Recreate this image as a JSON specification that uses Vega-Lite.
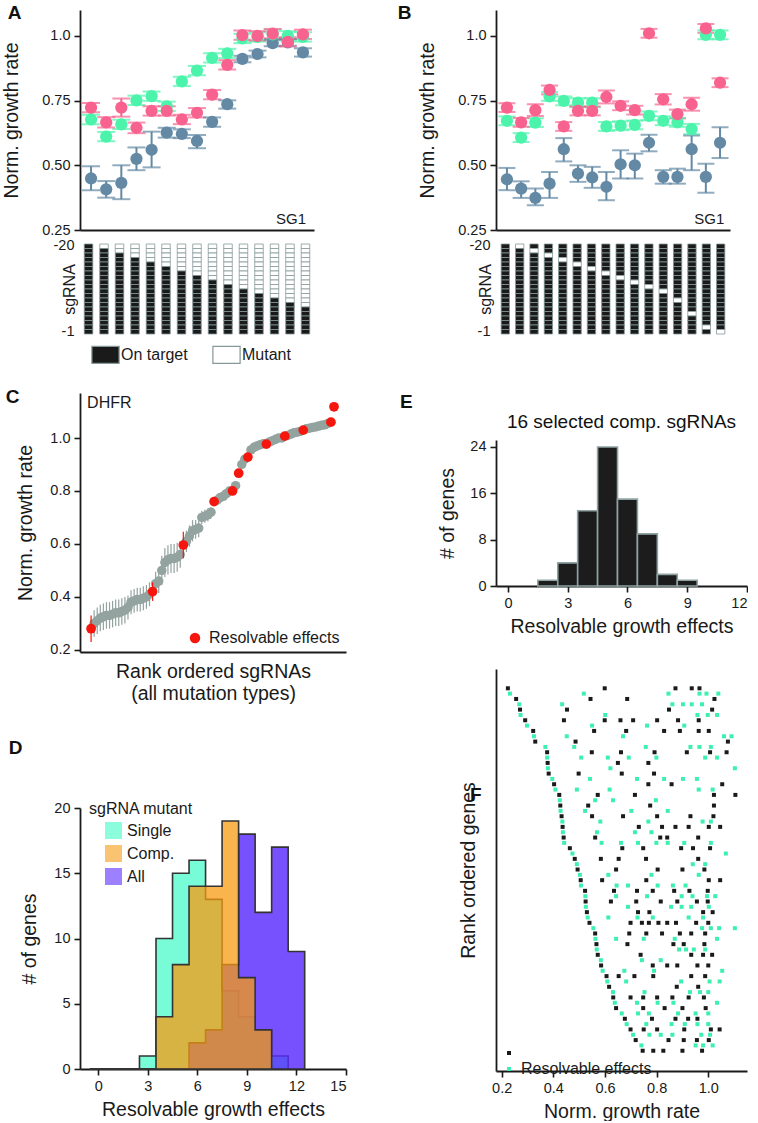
{
"$schema": "https://vega.github.io/schema/vega-lite/v6.json",
"padding": {"left": 1, "top": 4, "right": 0, "bottom": 0},
"config": {
 "font": "Liberation Sans",
 "view": {"stroke": null},
 "title": {"fontSize": 19, "fontWeight": "bold", "anchor": "start", "frame": "bounds", "color": "#111111"},
 "axis": {"domainColor": "#1a1a1a", "domainWidth": 1.8, "tickColor": "#1a1a1a", "tickWidth": 1.6, "tickSize": 6, "labelFontSize": 14.5, "labelColor": "#1a1a1a", "titleFontSize": 19.5, "titleFontWeight": "normal", "titleColor": "#1a1a1a", "grid": false, "labelPadding": 4},
 "legend": {"labelFontSize": 16, "labelColor": "#1a1a1a", "titleFontWeight": "normal", "titleColor": "#1a1a1a"}
},
"datasets": {
 "pa": [
  {"p":1,"g":"guaA","v":0.449,"lo":0.404,"hi":0.496},{"p":2,"g":"guaA","v":0.407,"lo":0.375,"hi":0.439},{"p":3,"g":"guaA","v":0.432,"lo":0.369,"hi":0.5},{"p":4,"g":"guaA","v":0.525,"lo":0.481,"hi":0.569},{"p":5,"g":"guaA","v":0.56,"lo":0.492,"hi":0.63},{"p":6,"g":"guaA","v":0.626,"lo":0.607,"hi":0.645},{"p":7,"g":"guaA","v":0.621,"lo":0.605,"hi":0.639},{"p":8,"g":"guaA","v":0.594,"lo":0.566,"hi":0.617},{"p":9,"g":"guaA","v":0.668,"lo":0.649,"hi":0.685},{"p":10,"g":"guaA","v":0.736,"lo":0.719,"hi":0.751},{"p":11,"g":"guaA","v":0.911,"lo":0.898,"hi":0.923},{"p":12,"g":"guaA","v":0.93,"lo":0.917,"hi":0.943},{"p":13,"g":"guaA","v":0.972,"lo":0.96,"hi":0.985},{"p":14,"g":"guaA","v":0.975,"lo":0.962,"hi":0.988},{"p":15,"g":"guaA","v":0.936,"lo":0.92,"hi":0.952},
  {"p":1,"g":"dapA","v":0.677,"lo":0.659,"hi":0.695},{"p":2,"g":"dapA","v":0.611,"lo":0.593,"hi":0.629},{"p":3,"g":"dapA","v":0.658,"lo":0.64,"hi":0.676},{"p":4,"g":"dapA","v":0.751,"lo":0.733,"hi":0.769},{"p":5,"g":"dapA","v":0.767,"lo":0.749,"hi":0.785},{"p":6,"g":"dapA","v":0.728,"lo":0.71,"hi":0.746},{"p":7,"g":"dapA","v":0.824,"lo":0.806,"hi":0.842},{"p":8,"g":"dapA","v":0.866,"lo":0.848,"hi":0.884},{"p":9,"g":"dapA","v":0.915,"lo":0.897,"hi":0.933},{"p":10,"g":"dapA","v":0.932,"lo":0.914,"hi":0.95},{"p":11,"g":"dapA","v":0.99,"lo":0.972,"hi":1.008},{"p":12,"g":"dapA","v":0.996,"lo":0.978,"hi":1.014},{"p":13,"g":"dapA","v":1.006,"lo":0.988,"hi":1.024},{"p":14,"g":"dapA","v":1.0,"lo":0.982,"hi":1.018},{"p":15,"g":"dapA","v":0.996,"lo":0.978,"hi":1.014},
  {"p":1,"g":"kdsA","v":0.723,"lo":0.705,"hi":0.741},{"p":2,"g":"kdsA","v":0.666,"lo":0.646,"hi":0.686},{"p":3,"g":"kdsA","v":0.723,"lo":0.688,"hi":0.758},{"p":4,"g":"kdsA","v":0.645,"lo":0.624,"hi":0.665},{"p":5,"g":"kdsA","v":0.71,"lo":0.692,"hi":0.728},{"p":6,"g":"kdsA","v":0.71,"lo":0.692,"hi":0.728},{"p":7,"g":"kdsA","v":0.677,"lo":0.659,"hi":0.695},{"p":8,"g":"kdsA","v":0.703,"lo":0.685,"hi":0.721},{"p":9,"g":"kdsA","v":0.773,"lo":0.755,"hi":0.791},{"p":10,"g":"kdsA","v":0.888,"lo":0.87,"hi":0.906},{"p":11,"g":"kdsA","v":1.003,"lo":0.985,"hi":1.021},{"p":12,"g":"kdsA","v":1.0,"lo":0.982,"hi":1.018},{"p":13,"g":"kdsA","v":1.009,"lo":0.991,"hi":1.027},{"p":14,"g":"kdsA","v":0.977,"lo":0.959,"hi":0.995},{"p":15,"g":"kdsA","v":1.006,"lo":0.988,"hi":1.024}
 ],
 "pb": [
  {"p":1,"g":"guaA","v":0.446,"lo":0.404,"hi":0.49},{"p":2,"g":"guaA","v":0.41,"lo":0.374,"hi":0.438},{"p":3,"g":"guaA","v":0.374,"lo":0.346,"hi":0.41},{"p":4,"g":"guaA","v":0.429,"lo":0.374,"hi":0.474},{"p":5,"g":"guaA","v":0.562,"lo":0.515,"hi":0.605},{"p":6,"g":"guaA","v":0.468,"lo":0.436,"hi":0.5},{"p":7,"g":"guaA","v":0.453,"lo":0.413,"hi":0.494},{"p":8,"g":"guaA","v":0.417,"lo":0.365,"hi":0.474},{"p":9,"g":"guaA","v":0.504,"lo":0.449,"hi":0.558},{"p":10,"g":"guaA","v":0.5,"lo":0.449,"hi":0.545},{"p":11,"g":"guaA","v":0.587,"lo":0.554,"hi":0.618},{"p":12,"g":"guaA","v":0.455,"lo":0.429,"hi":0.481},{"p":13,"g":"guaA","v":0.455,"lo":0.429,"hi":0.487},{"p":14,"g":"guaA","v":0.562,"lo":0.481,"hi":0.615},{"p":15,"g":"guaA","v":0.455,"lo":0.394,"hi":0.506},{"p":16,"g":"guaA","v":0.587,"lo":0.528,"hi":0.647},
  {"p":1,"g":"dapA","v":0.672,"lo":0.655,"hi":0.689},{"p":2,"g":"dapA","v":0.607,"lo":0.59,"hi":0.624},{"p":3,"g":"dapA","v":0.665,"lo":0.648,"hi":0.682},{"p":4,"g":"dapA","v":0.766,"lo":0.749,"hi":0.783},{"p":5,"g":"dapA","v":0.749,"lo":0.732,"hi":0.766},{"p":6,"g":"dapA","v":0.742,"lo":0.725,"hi":0.759},{"p":7,"g":"dapA","v":0.742,"lo":0.725,"hi":0.759},{"p":8,"g":"dapA","v":0.65,"lo":0.633,"hi":0.667},{"p":9,"g":"dapA","v":0.653,"lo":0.636,"hi":0.67},{"p":10,"g":"dapA","v":0.656,"lo":0.639,"hi":0.673},{"p":11,"g":"dapA","v":0.691,"lo":0.674,"hi":0.708},{"p":12,"g":"dapA","v":0.672,"lo":0.655,"hi":0.689},{"p":13,"g":"dapA","v":0.666,"lo":0.649,"hi":0.683},{"p":14,"g":"dapA","v":0.64,"lo":0.62,"hi":0.66},{"p":15,"g":"dapA","v":1.004,"lo":0.987,"hi":1.021},{"p":16,"g":"dapA","v":1.004,"lo":0.987,"hi":1.021},
  {"p":1,"g":"kdsA","v":0.723,"lo":0.706,"hi":0.74},{"p":2,"g":"kdsA","v":0.666,"lo":0.649,"hi":0.683},{"p":3,"g":"kdsA","v":0.713,"lo":0.69,"hi":0.736},{"p":4,"g":"kdsA","v":0.791,"lo":0.774,"hi":0.808},{"p":5,"g":"kdsA","v":0.65,"lo":0.633,"hi":0.667},{"p":6,"g":"kdsA","v":0.71,"lo":0.693,"hi":0.727},{"p":7,"g":"kdsA","v":0.71,"lo":0.693,"hi":0.727},{"p":8,"g":"kdsA","v":0.764,"lo":0.739,"hi":0.789},{"p":9,"g":"kdsA","v":0.73,"lo":0.713,"hi":0.747},{"p":10,"g":"kdsA","v":0.713,"lo":0.696,"hi":0.73},{"p":11,"g":"kdsA","v":1.01,"lo":0.993,"hi":1.027},{"p":12,"g":"kdsA","v":0.755,"lo":0.735,"hi":0.775},{"p":13,"g":"kdsA","v":0.698,"lo":0.681,"hi":0.715},{"p":14,"g":"kdsA","v":0.736,"lo":0.711,"hi":0.761},{"p":15,"g":"kdsA","v":1.029,"lo":1.012,"hi":1.046},{"p":16,"g":"kdsA","v":0.819,"lo":0.802,"hi":0.836}
 ],
 "ga": [
  {"c":1,"r":-20,"s":"T"},{"c":1,"r":-19,"s":"T"},{"c":1,"r":-18,"s":"T"},{"c":1,"r":-17,"s":"T"},{"c":1,"r":-16,"s":"T"},{"c":1,"r":-15,"s":"T"},{"c":1,"r":-14,"s":"T"},{"c":1,"r":-13,"s":"T"},{"c":1,"r":-12,"s":"T"},{"c":1,"r":-11,"s":"T"},{"c":1,"r":-10,"s":"T"},{"c":1,"r":-9,"s":"T"},{"c":1,"r":-8,"s":"T"},{"c":1,"r":-7,"s":"T"},{"c":1,"r":-6,"s":"T"},{"c":1,"r":-5,"s":"T"},{"c":1,"r":-4,"s":"T"},{"c":1,"r":-3,"s":"T"},{"c":1,"r":-2,"s":"T"},{"c":1,"r":-1,"s":"T"},
  {"c":2,"r":-20,"s":"M"},{"c":2,"r":-19,"s":"T"},{"c":2,"r":-18,"s":"T"},{"c":2,"r":-17,"s":"T"},{"c":2,"r":-16,"s":"T"},{"c":2,"r":-15,"s":"T"},{"c":2,"r":-14,"s":"T"},{"c":2,"r":-13,"s":"T"},{"c":2,"r":-12,"s":"T"},{"c":2,"r":-11,"s":"T"},{"c":2,"r":-10,"s":"T"},{"c":2,"r":-9,"s":"T"},{"c":2,"r":-8,"s":"T"},{"c":2,"r":-7,"s":"T"},{"c":2,"r":-6,"s":"T"},{"c":2,"r":-5,"s":"T"},{"c":2,"r":-4,"s":"T"},{"c":2,"r":-3,"s":"T"},{"c":2,"r":-2,"s":"T"},{"c":2,"r":-1,"s":"T"},
  {"c":3,"r":-20,"s":"M"},{"c":3,"r":-19,"s":"M"},{"c":3,"r":-18,"s":"T"},{"c":3,"r":-17,"s":"T"},{"c":3,"r":-16,"s":"T"},{"c":3,"r":-15,"s":"T"},{"c":3,"r":-14,"s":"T"},{"c":3,"r":-13,"s":"T"},{"c":3,"r":-12,"s":"T"},{"c":3,"r":-11,"s":"T"},{"c":3,"r":-10,"s":"T"},{"c":3,"r":-9,"s":"T"},{"c":3,"r":-8,"s":"T"},{"c":3,"r":-7,"s":"T"},{"c":3,"r":-6,"s":"T"},{"c":3,"r":-5,"s":"T"},{"c":3,"r":-4,"s":"T"},{"c":3,"r":-3,"s":"T"},{"c":3,"r":-2,"s":"T"},{"c":3,"r":-1,"s":"T"},
  {"c":4,"r":-20,"s":"M"},{"c":4,"r":-19,"s":"M"},{"c":4,"r":-18,"s":"M"},{"c":4,"r":-17,"s":"T"},{"c":4,"r":-16,"s":"T"},{"c":4,"r":-15,"s":"T"},{"c":4,"r":-14,"s":"T"},{"c":4,"r":-13,"s":"T"},{"c":4,"r":-12,"s":"T"},{"c":4,"r":-11,"s":"T"},{"c":4,"r":-10,"s":"T"},{"c":4,"r":-9,"s":"T"},{"c":4,"r":-8,"s":"T"},{"c":4,"r":-7,"s":"T"},{"c":4,"r":-6,"s":"T"},{"c":4,"r":-5,"s":"T"},{"c":4,"r":-4,"s":"T"},{"c":4,"r":-3,"s":"T"},{"c":4,"r":-2,"s":"T"},{"c":4,"r":-1,"s":"T"},
  {"c":5,"r":-20,"s":"M"},{"c":5,"r":-19,"s":"M"},{"c":5,"r":-18,"s":"M"},{"c":5,"r":-17,"s":"M"},{"c":5,"r":-16,"s":"T"},{"c":5,"r":-15,"s":"T"},{"c":5,"r":-14,"s":"T"},{"c":5,"r":-13,"s":"T"},{"c":5,"r":-12,"s":"T"},{"c":5,"r":-11,"s":"T"},{"c":5,"r":-10,"s":"T"},{"c":5,"r":-9,"s":"T"},{"c":5,"r":-8,"s":"T"},{"c":5,"r":-7,"s":"T"},{"c":5,"r":-6,"s":"T"},{"c":5,"r":-5,"s":"T"},{"c":5,"r":-4,"s":"T"},{"c":5,"r":-3,"s":"T"},{"c":5,"r":-2,"s":"T"},{"c":5,"r":-1,"s":"T"},
  {"c":6,"r":-20,"s":"M"},{"c":6,"r":-19,"s":"M"},{"c":6,"r":-18,"s":"M"},{"c":6,"r":-17,"s":"M"},{"c":6,"r":-16,"s":"M"},{"c":6,"r":-15,"s":"T"},{"c":6,"r":-14,"s":"T"},{"c":6,"r":-13,"s":"T"},{"c":6,"r":-12,"s":"T"},{"c":6,"r":-11,"s":"T"},{"c":6,"r":-10,"s":"T"},{"c":6,"r":-9,"s":"T"},{"c":6,"r":-8,"s":"T"},{"c":6,"r":-7,"s":"T"},{"c":6,"r":-6,"s":"T"},{"c":6,"r":-5,"s":"T"},{"c":6,"r":-4,"s":"T"},{"c":6,"r":-3,"s":"T"},{"c":6,"r":-2,"s":"T"},{"c":6,"r":-1,"s":"T"},
  {"c":7,"r":-20,"s":"M"},{"c":7,"r":-19,"s":"M"},{"c":7,"r":-18,"s":"M"},{"c":7,"r":-17,"s":"M"},{"c":7,"r":-16,"s":"M"},{"c":7,"r":-15,"s":"M"},{"c":7,"r":-14,"s":"T"},{"c":7,"r":-13,"s":"T"},{"c":7,"r":-12,"s":"T"},{"c":7,"r":-11,"s":"T"},{"c":7,"r":-10,"s":"T"},{"c":7,"r":-9,"s":"T"},{"c":7,"r":-8,"s":"T"},{"c":7,"r":-7,"s":"T"},{"c":7,"r":-6,"s":"T"},{"c":7,"r":-5,"s":"T"},{"c":7,"r":-4,"s":"T"},{"c":7,"r":-3,"s":"T"},{"c":7,"r":-2,"s":"T"},{"c":7,"r":-1,"s":"T"},
  {"c":8,"r":-20,"s":"M"},{"c":8,"r":-19,"s":"M"},{"c":8,"r":-18,"s":"M"},{"c":8,"r":-17,"s":"M"},{"c":8,"r":-16,"s":"M"},{"c":8,"r":-15,"s":"M"},{"c":8,"r":-14,"s":"M"},{"c":8,"r":-13,"s":"T"},{"c":8,"r":-12,"s":"T"},{"c":8,"r":-11,"s":"T"},{"c":8,"r":-10,"s":"T"},{"c":8,"r":-9,"s":"T"},{"c":8,"r":-8,"s":"T"},{"c":8,"r":-7,"s":"T"},{"c":8,"r":-6,"s":"T"},{"c":8,"r":-5,"s":"T"},{"c":8,"r":-4,"s":"T"},{"c":8,"r":-3,"s":"T"},{"c":8,"r":-2,"s":"T"},{"c":8,"r":-1,"s":"T"},
  {"c":9,"r":-20,"s":"M"},{"c":9,"r":-19,"s":"M"},{"c":9,"r":-18,"s":"M"},{"c":9,"r":-17,"s":"M"},{"c":9,"r":-16,"s":"M"},{"c":9,"r":-15,"s":"M"},{"c":9,"r":-14,"s":"M"},{"c":9,"r":-13,"s":"M"},{"c":9,"r":-12,"s":"T"},{"c":9,"r":-11,"s":"T"},{"c":9,"r":-10,"s":"T"},{"c":9,"r":-9,"s":"T"},{"c":9,"r":-8,"s":"T"},{"c":9,"r":-7,"s":"T"},{"c":9,"r":-6,"s":"T"},{"c":9,"r":-5,"s":"T"},{"c":9,"r":-4,"s":"T"},{"c":9,"r":-3,"s":"T"},{"c":9,"r":-2,"s":"T"},{"c":9,"r":-1,"s":"T"},
  {"c":10,"r":-20,"s":"M"},{"c":10,"r":-19,"s":"M"},{"c":10,"r":-18,"s":"M"},{"c":10,"r":-17,"s":"M"},{"c":10,"r":-16,"s":"M"},{"c":10,"r":-15,"s":"M"},{"c":10,"r":-14,"s":"M"},{"c":10,"r":-13,"s":"M"},{"c":10,"r":-12,"s":"M"},{"c":10,"r":-11,"s":"T"},{"c":10,"r":-10,"s":"T"},{"c":10,"r":-9,"s":"T"},{"c":10,"r":-8,"s":"T"},{"c":10,"r":-7,"s":"T"},{"c":10,"r":-6,"s":"T"},{"c":10,"r":-5,"s":"T"},{"c":10,"r":-4,"s":"T"},{"c":10,"r":-3,"s":"T"},{"c":10,"r":-2,"s":"T"},{"c":10,"r":-1,"s":"T"},
  {"c":11,"r":-20,"s":"M"},{"c":11,"r":-19,"s":"M"},{"c":11,"r":-18,"s":"M"},{"c":11,"r":-17,"s":"M"},{"c":11,"r":-16,"s":"M"},{"c":11,"r":-15,"s":"M"},{"c":11,"r":-14,"s":"M"},{"c":11,"r":-13,"s":"M"},{"c":11,"r":-12,"s":"M"},{"c":11,"r":-11,"s":"M"},{"c":11,"r":-10,"s":"T"},{"c":11,"r":-9,"s":"T"},{"c":11,"r":-8,"s":"T"},{"c":11,"r":-7,"s":"T"},{"c":11,"r":-6,"s":"T"},{"c":11,"r":-5,"s":"T"},{"c":11,"r":-4,"s":"T"},{"c":11,"r":-3,"s":"T"},{"c":11,"r":-2,"s":"T"},{"c":11,"r":-1,"s":"T"},
  {"c":12,"r":-20,"s":"M"},{"c":12,"r":-19,"s":"M"},{"c":12,"r":-18,"s":"M"},{"c":12,"r":-17,"s":"M"},{"c":12,"r":-16,"s":"M"},{"c":12,"r":-15,"s":"M"},{"c":12,"r":-14,"s":"M"},{"c":12,"r":-13,"s":"M"},{"c":12,"r":-12,"s":"M"},{"c":12,"r":-11,"s":"M"},{"c":12,"r":-10,"s":"M"},{"c":12,"r":-9,"s":"T"},{"c":12,"r":-8,"s":"T"},{"c":12,"r":-7,"s":"T"},{"c":12,"r":-6,"s":"T"},{"c":12,"r":-5,"s":"T"},{"c":12,"r":-4,"s":"T"},{"c":12,"r":-3,"s":"T"},{"c":12,"r":-2,"s":"T"},{"c":12,"r":-1,"s":"T"},
  {"c":13,"r":-20,"s":"M"},{"c":13,"r":-19,"s":"M"},{"c":13,"r":-18,"s":"M"},{"c":13,"r":-17,"s":"M"},{"c":13,"r":-16,"s":"M"},{"c":13,"r":-15,"s":"M"},{"c":13,"r":-14,"s":"M"},{"c":13,"r":-13,"s":"M"},{"c":13,"r":-12,"s":"M"},{"c":13,"r":-11,"s":"M"},{"c":13,"r":-10,"s":"M"},{"c":13,"r":-9,"s":"M"},{"c":13,"r":-8,"s":"T"},{"c":13,"r":-7,"s":"T"},{"c":13,"r":-6,"s":"T"},{"c":13,"r":-5,"s":"T"},{"c":13,"r":-4,"s":"T"},{"c":13,"r":-3,"s":"T"},{"c":13,"r":-2,"s":"T"},{"c":13,"r":-1,"s":"T"},
  {"c":14,"r":-20,"s":"M"},{"c":14,"r":-19,"s":"M"},{"c":14,"r":-18,"s":"M"},{"c":14,"r":-17,"s":"M"},{"c":14,"r":-16,"s":"M"},{"c":14,"r":-15,"s":"M"},{"c":14,"r":-14,"s":"M"},{"c":14,"r":-13,"s":"M"},{"c":14,"r":-12,"s":"M"},{"c":14,"r":-11,"s":"M"},{"c":14,"r":-10,"s":"M"},{"c":14,"r":-9,"s":"M"},{"c":14,"r":-8,"s":"M"},{"c":14,"r":-7,"s":"T"},{"c":14,"r":-6,"s":"T"},{"c":14,"r":-5,"s":"T"},{"c":14,"r":-4,"s":"T"},{"c":14,"r":-3,"s":"T"},{"c":14,"r":-2,"s":"T"},{"c":14,"r":-1,"s":"T"},
  {"c":15,"r":-20,"s":"M"},{"c":15,"r":-19,"s":"M"},{"c":15,"r":-18,"s":"M"},{"c":15,"r":-17,"s":"M"},{"c":15,"r":-16,"s":"M"},{"c":15,"r":-15,"s":"M"},{"c":15,"r":-14,"s":"M"},{"c":15,"r":-13,"s":"M"},{"c":15,"r":-12,"s":"M"},{"c":15,"r":-11,"s":"M"},{"c":15,"r":-10,"s":"M"},{"c":15,"r":-9,"s":"M"},{"c":15,"r":-8,"s":"M"},{"c":15,"r":-7,"s":"M"},{"c":15,"r":-6,"s":"T"},{"c":15,"r":-5,"s":"T"},{"c":15,"r":-4,"s":"T"},{"c":15,"r":-3,"s":"T"},{"c":15,"r":-2,"s":"T"},{"c":15,"r":-1,"s":"T"}
 ],
 "gb": [
  {"c":1,"r":-20,"s":"T"},{"c":1,"r":-19,"s":"T"},{"c":1,"r":-18,"s":"T"},{"c":1,"r":-17,"s":"T"},{"c":1,"r":-16,"s":"T"},{"c":1,"r":-15,"s":"T"},{"c":1,"r":-14,"s":"T"},{"c":1,"r":-13,"s":"T"},{"c":1,"r":-12,"s":"T"},{"c":1,"r":-11,"s":"T"},{"c":1,"r":-10,"s":"T"},{"c":1,"r":-9,"s":"T"},{"c":1,"r":-8,"s":"T"},{"c":1,"r":-7,"s":"T"},{"c":1,"r":-6,"s":"T"},{"c":1,"r":-5,"s":"T"},{"c":1,"r":-4,"s":"T"},{"c":1,"r":-3,"s":"T"},{"c":1,"r":-2,"s":"T"},{"c":1,"r":-1,"s":"T"},
  {"c":2,"r":-20,"s":"M"},{"c":2,"r":-19,"s":"T"},{"c":2,"r":-18,"s":"T"},{"c":2,"r":-17,"s":"T"},{"c":2,"r":-16,"s":"T"},{"c":2,"r":-15,"s":"T"},{"c":2,"r":-14,"s":"T"},{"c":2,"r":-13,"s":"T"},{"c":2,"r":-12,"s":"T"},{"c":2,"r":-11,"s":"T"},{"c":2,"r":-10,"s":"T"},{"c":2,"r":-9,"s":"T"},{"c":2,"r":-8,"s":"T"},{"c":2,"r":-7,"s":"T"},{"c":2,"r":-6,"s":"T"},{"c":2,"r":-5,"s":"T"},{"c":2,"r":-4,"s":"T"},{"c":2,"r":-3,"s":"T"},{"c":2,"r":-2,"s":"T"},{"c":2,"r":-1,"s":"T"},
  {"c":3,"r":-20,"s":"T"},{"c":3,"r":-19,"s":"M"},{"c":3,"r":-18,"s":"T"},{"c":3,"r":-17,"s":"T"},{"c":3,"r":-16,"s":"T"},{"c":3,"r":-15,"s":"T"},{"c":3,"r":-14,"s":"T"},{"c":3,"r":-13,"s":"T"},{"c":3,"r":-12,"s":"T"},{"c":3,"r":-11,"s":"T"},{"c":3,"r":-10,"s":"T"},{"c":3,"r":-9,"s":"T"},{"c":3,"r":-8,"s":"T"},{"c":3,"r":-7,"s":"T"},{"c":3,"r":-6,"s":"T"},{"c":3,"r":-5,"s":"T"},{"c":3,"r":-4,"s":"T"},{"c":3,"r":-3,"s":"T"},{"c":3,"r":-2,"s":"T"},{"c":3,"r":-1,"s":"T"},
  {"c":4,"r":-20,"s":"T"},{"c":4,"r":-19,"s":"T"},{"c":4,"r":-18,"s":"M"},{"c":4,"r":-17,"s":"T"},{"c":4,"r":-16,"s":"T"},{"c":4,"r":-15,"s":"T"},{"c":4,"r":-14,"s":"T"},{"c":4,"r":-13,"s":"T"},{"c":4,"r":-12,"s":"T"},{"c":4,"r":-11,"s":"T"},{"c":4,"r":-10,"s":"T"},{"c":4,"r":-9,"s":"T"},{"c":4,"r":-8,"s":"T"},{"c":4,"r":-7,"s":"T"},{"c":4,"r":-6,"s":"T"},{"c":4,"r":-5,"s":"T"},{"c":4,"r":-4,"s":"T"},{"c":4,"r":-3,"s":"T"},{"c":4,"r":-2,"s":"T"},{"c":4,"r":-1,"s":"T"},
  {"c":5,"r":-20,"s":"T"},{"c":5,"r":-19,"s":"T"},{"c":5,"r":-18,"s":"T"},{"c":5,"r":-17,"s":"M"},{"c":5,"r":-16,"s":"T"},{"c":5,"r":-15,"s":"T"},{"c":5,"r":-14,"s":"T"},{"c":5,"r":-13,"s":"T"},{"c":5,"r":-12,"s":"T"},{"c":5,"r":-11,"s":"T"},{"c":5,"r":-10,"s":"T"},{"c":5,"r":-9,"s":"T"},{"c":5,"r":-8,"s":"T"},{"c":5,"r":-7,"s":"T"},{"c":5,"r":-6,"s":"T"},{"c":5,"r":-5,"s":"T"},{"c":5,"r":-4,"s":"T"},{"c":5,"r":-3,"s":"T"},{"c":5,"r":-2,"s":"T"},{"c":5,"r":-1,"s":"T"},
  {"c":6,"r":-20,"s":"T"},{"c":6,"r":-19,"s":"T"},{"c":6,"r":-18,"s":"T"},{"c":6,"r":-17,"s":"T"},{"c":6,"r":-16,"s":"M"},{"c":6,"r":-15,"s":"T"},{"c":6,"r":-14,"s":"T"},{"c":6,"r":-13,"s":"T"},{"c":6,"r":-12,"s":"T"},{"c":6,"r":-11,"s":"T"},{"c":6,"r":-10,"s":"T"},{"c":6,"r":-9,"s":"T"},{"c":6,"r":-8,"s":"T"},{"c":6,"r":-7,"s":"T"},{"c":6,"r":-6,"s":"T"},{"c":6,"r":-5,"s":"T"},{"c":6,"r":-4,"s":"T"},{"c":6,"r":-3,"s":"T"},{"c":6,"r":-2,"s":"T"},{"c":6,"r":-1,"s":"T"},
  {"c":7,"r":-20,"s":"T"},{"c":7,"r":-19,"s":"T"},{"c":7,"r":-18,"s":"T"},{"c":7,"r":-17,"s":"T"},{"c":7,"r":-16,"s":"T"},{"c":7,"r":-15,"s":"M"},{"c":7,"r":-14,"s":"T"},{"c":7,"r":-13,"s":"T"},{"c":7,"r":-12,"s":"T"},{"c":7,"r":-11,"s":"T"},{"c":7,"r":-10,"s":"T"},{"c":7,"r":-9,"s":"T"},{"c":7,"r":-8,"s":"T"},{"c":7,"r":-7,"s":"T"},{"c":7,"r":-6,"s":"T"},{"c":7,"r":-5,"s":"T"},{"c":7,"r":-4,"s":"T"},{"c":7,"r":-3,"s":"T"},{"c":7,"r":-2,"s":"T"},{"c":7,"r":-1,"s":"T"},
  {"c":8,"r":-20,"s":"T"},{"c":8,"r":-19,"s":"T"},{"c":8,"r":-18,"s":"T"},{"c":8,"r":-17,"s":"T"},{"c":8,"r":-16,"s":"T"},{"c":8,"r":-15,"s":"T"},{"c":8,"r":-14,"s":"M"},{"c":8,"r":-13,"s":"T"},{"c":8,"r":-12,"s":"T"},{"c":8,"r":-11,"s":"T"},{"c":8,"r":-10,"s":"T"},{"c":8,"r":-9,"s":"T"},{"c":8,"r":-8,"s":"T"},{"c":8,"r":-7,"s":"T"},{"c":8,"r":-6,"s":"T"},{"c":8,"r":-5,"s":"T"},{"c":8,"r":-4,"s":"T"},{"c":8,"r":-3,"s":"T"},{"c":8,"r":-2,"s":"T"},{"c":8,"r":-1,"s":"T"},
  {"c":9,"r":-20,"s":"T"},{"c":9,"r":-19,"s":"T"},{"c":9,"r":-18,"s":"T"},{"c":9,"r":-17,"s":"T"},{"c":9,"r":-16,"s":"T"},{"c":9,"r":-15,"s":"T"},{"c":9,"r":-14,"s":"T"},{"c":9,"r":-13,"s":"M"},{"c":9,"r":-12,"s":"T"},{"c":9,"r":-11,"s":"T"},{"c":9,"r":-10,"s":"T"},{"c":9,"r":-9,"s":"T"},{"c":9,"r":-8,"s":"T"},{"c":9,"r":-7,"s":"T"},{"c":9,"r":-6,"s":"T"},{"c":9,"r":-5,"s":"T"},{"c":9,"r":-4,"s":"T"},{"c":9,"r":-3,"s":"T"},{"c":9,"r":-2,"s":"T"},{"c":9,"r":-1,"s":"T"},
  {"c":10,"r":-20,"s":"T"},{"c":10,"r":-19,"s":"T"},{"c":10,"r":-18,"s":"T"},{"c":10,"r":-17,"s":"T"},{"c":10,"r":-16,"s":"T"},{"c":10,"r":-15,"s":"T"},{"c":10,"r":-14,"s":"T"},{"c":10,"r":-13,"s":"T"},{"c":10,"r":-12,"s":"M"},{"c":10,"r":-11,"s":"T"},{"c":10,"r":-10,"s":"T"},{"c":10,"r":-9,"s":"T"},{"c":10,"r":-8,"s":"T"},{"c":10,"r":-7,"s":"T"},{"c":10,"r":-6,"s":"T"},{"c":10,"r":-5,"s":"T"},{"c":10,"r":-4,"s":"T"},{"c":10,"r":-3,"s":"T"},{"c":10,"r":-2,"s":"T"},{"c":10,"r":-1,"s":"T"},
  {"c":11,"r":-20,"s":"T"},{"c":11,"r":-19,"s":"T"},{"c":11,"r":-18,"s":"T"},{"c":11,"r":-17,"s":"T"},{"c":11,"r":-16,"s":"T"},{"c":11,"r":-15,"s":"T"},{"c":11,"r":-14,"s":"T"},{"c":11,"r":-13,"s":"T"},{"c":11,"r":-12,"s":"T"},{"c":11,"r":-11,"s":"M"},{"c":11,"r":-10,"s":"T"},{"c":11,"r":-9,"s":"T"},{"c":11,"r":-8,"s":"T"},{"c":11,"r":-7,"s":"T"},{"c":11,"r":-6,"s":"T"},{"c":11,"r":-5,"s":"T"},{"c":11,"r":-4,"s":"T"},{"c":11,"r":-3,"s":"T"},{"c":11,"r":-2,"s":"T"},{"c":11,"r":-1,"s":"T"},
  {"c":12,"r":-20,"s":"T"},{"c":12,"r":-19,"s":"T"},{"c":12,"r":-18,"s":"T"},{"c":12,"r":-17,"s":"T"},{"c":12,"r":-16,"s":"T"},{"c":12,"r":-15,"s":"T"},{"c":12,"r":-14,"s":"T"},{"c":12,"r":-13,"s":"T"},{"c":12,"r":-12,"s":"T"},{"c":12,"r":-11,"s":"T"},{"c":12,"r":-10,"s":"M"},{"c":12,"r":-9,"s":"T"},{"c":12,"r":-8,"s":"T"},{"c":12,"r":-7,"s":"T"},{"c":12,"r":-6,"s":"T"},{"c":12,"r":-5,"s":"T"},{"c":12,"r":-4,"s":"T"},{"c":12,"r":-3,"s":"T"},{"c":12,"r":-2,"s":"T"},{"c":12,"r":-1,"s":"T"},
  {"c":13,"r":-20,"s":"T"},{"c":13,"r":-19,"s":"T"},{"c":13,"r":-18,"s":"T"},{"c":13,"r":-17,"s":"T"},{"c":13,"r":-16,"s":"T"},{"c":13,"r":-15,"s":"T"},{"c":13,"r":-14,"s":"T"},{"c":13,"r":-13,"s":"T"},{"c":13,"r":-12,"s":"T"},{"c":13,"r":-11,"s":"T"},{"c":13,"r":-10,"s":"T"},{"c":13,"r":-9,"s":"T"},{"c":13,"r":-8,"s":"M"},{"c":13,"r":-7,"s":"T"},{"c":13,"r":-6,"s":"T"},{"c":13,"r":-5,"s":"T"},{"c":13,"r":-4,"s":"T"},{"c":13,"r":-3,"s":"T"},{"c":13,"r":-2,"s":"T"},{"c":13,"r":-1,"s":"T"},
  {"c":14,"r":-20,"s":"T"},{"c":14,"r":-19,"s":"T"},{"c":14,"r":-18,"s":"T"},{"c":14,"r":-17,"s":"T"},{"c":14,"r":-16,"s":"T"},{"c":14,"r":-15,"s":"T"},{"c":14,"r":-14,"s":"T"},{"c":14,"r":-13,"s":"T"},{"c":14,"r":-12,"s":"T"},{"c":14,"r":-11,"s":"T"},{"c":14,"r":-10,"s":"T"},{"c":14,"r":-9,"s":"T"},{"c":14,"r":-8,"s":"T"},{"c":14,"r":-7,"s":"T"},{"c":14,"r":-6,"s":"T"},{"c":14,"r":-5,"s":"M"},{"c":14,"r":-4,"s":"T"},{"c":14,"r":-3,"s":"T"},{"c":14,"r":-2,"s":"T"},{"c":14,"r":-1,"s":"T"},
  {"c":15,"r":-20,"s":"T"},{"c":15,"r":-19,"s":"T"},{"c":15,"r":-18,"s":"T"},{"c":15,"r":-17,"s":"T"},{"c":15,"r":-16,"s":"T"},{"c":15,"r":-15,"s":"T"},{"c":15,"r":-14,"s":"T"},{"c":15,"r":-13,"s":"T"},{"c":15,"r":-12,"s":"T"},{"c":15,"r":-11,"s":"T"},{"c":15,"r":-10,"s":"T"},{"c":15,"r":-9,"s":"T"},{"c":15,"r":-8,"s":"T"},{"c":15,"r":-7,"s":"T"},{"c":15,"r":-6,"s":"T"},{"c":15,"r":-5,"s":"T"},{"c":15,"r":-4,"s":"T"},{"c":15,"r":-3,"s":"T"},{"c":15,"r":-2,"s":"M"},{"c":15,"r":-1,"s":"T"},
  {"c":16,"r":-20,"s":"T"},{"c":16,"r":-19,"s":"T"},{"c":16,"r":-18,"s":"T"},{"c":16,"r":-17,"s":"T"},{"c":16,"r":-16,"s":"T"},{"c":16,"r":-15,"s":"T"},{"c":16,"r":-14,"s":"T"},{"c":16,"r":-13,"s":"T"},{"c":16,"r":-12,"s":"T"},{"c":16,"r":-11,"s":"T"},{"c":16,"r":-10,"s":"T"},{"c":16,"r":-9,"s":"T"},{"c":16,"r":-8,"s":"T"},{"c":16,"r":-7,"s":"T"},{"c":16,"r":-6,"s":"T"},{"c":16,"r":-5,"s":"T"},{"c":16,"r":-4,"s":"T"},{"c":16,"r":-3,"s":"T"},{"c":16,"r":-2,"s":"T"},{"c":16,"r":-1,"s":"M"}
 ],
 "c": [
  {"r":1,"v":0.28,"e":0.05,"t":"R"},{"r":2,"v":0.3,"e":0.05,"t":"G"},{"r":3,"v":0.31,"e":0.05,"t":"G"},{"r":4,"v":0.32,"e":0.05,"t":"G"},{"r":5,"v":0.325,"e":0.05,"t":"G"},{"r":6,"v":0.33,"e":0.05,"t":"G"},{"r":7,"v":0.33,"e":0.05,"t":"G"},{"r":8,"v":0.335,"e":0.05,"t":"G"},{"r":9,"v":0.34,"e":0.05,"t":"G"},{"r":10,"v":0.34,"e":0.05,"t":"G"},
  {"r":11,"v":0.345,"e":0.05,"t":"G"},{"r":12,"v":0.35,"e":0.05,"t":"G"},{"r":13,"v":0.36,"e":0.045,"t":"G"},{"r":14,"v":0.38,"e":0.045,"t":"G"},{"r":15,"v":0.385,"e":0.045,"t":"G"},{"r":16,"v":0.39,"e":0.045,"t":"G"},{"r":17,"v":0.39,"e":0.045,"t":"G"},{"r":18,"v":0.395,"e":0.045,"t":"G"},{"r":19,"v":0.4,"e":0.045,"t":"G"},{"r":20,"v":0.41,"e":0.045,"t":"G"},
  {"r":21,"v":0.42,"e":0.035,"t":"R"},{"r":22,"v":0.45,"e":0.045,"t":"G"},{"r":23,"v":0.46,"e":0.045,"t":"G"},{"r":24,"v":0.5,"e":0.055,"t":"G"},{"r":25,"v":0.53,"e":0.055,"t":"G"},{"r":26,"v":0.54,"e":0.055,"t":"G"},{"r":27,"v":0.545,"e":0.055,"t":"G"},{"r":28,"v":0.545,"e":0.055,"t":"G"},{"r":29,"v":0.55,"e":0.055,"t":"G"},{"r":30,"v":0.56,"e":0.05,"t":"G"},
  {"r":31,"v":0.596,"e":0.05,"t":"R"},{"r":32,"v":0.61,"e":0.04,"t":"G"},{"r":33,"v":0.63,"e":0.04,"t":"G"},{"r":34,"v":0.65,"e":0.04,"t":"G"},{"r":35,"v":0.655,"e":0.035,"t":"G"},{"r":36,"v":0.66,"e":0.035,"t":"G"},{"r":37,"v":0.7,"e":0.025,"t":"G"},{"r":38,"v":0.705,"e":0.025,"t":"G"},{"r":39,"v":0.71,"e":0.025,"t":"G"},{"r":40,"v":0.72,"e":0.02,"t":"G"},
  {"r":41,"v":0.76,"e":0.01,"t":"R"},{"r":42,"v":0.765,"e":0.015,"t":"G"},{"r":43,"v":0.775,"e":0.015,"t":"G"},{"r":44,"v":0.78,"e":0.015,"t":"G"},{"r":45,"v":0.79,"e":0.015,"t":"G"},{"r":46,"v":0.8,"e":0.015,"t":"G"},{"r":47,"v":0.8,"e":0.01,"t":"R"},{"r":48,"v":0.82,"e":0.012,"t":"G"},{"r":49,"v":0.867,"e":0.008,"t":"R"},{"r":50,"v":0.9,"e":0.008,"t":"G"},
  {"r":51,"v":0.92,"e":0.008,"t":"G"},{"r":52,"v":0.928,"e":0.008,"t":"R"},{"r":53,"v":0.955,"e":0.008,"t":"G"},{"r":54,"v":0.965,"e":0.008,"t":"G"},{"r":55,"v":0.97,"e":0.008,"t":"G"},{"r":56,"v":0.975,"e":0.008,"t":"G"},{"r":57,"v":0.978,"e":0.008,"t":"G"},{"r":58,"v":0.977,"e":0.008,"t":"R"},{"r":59,"v":0.985,"e":0.008,"t":"G"},{"r":60,"v":0.99,"e":0.008,"t":"G"},
  {"r":61,"v":0.995,"e":0.008,"t":"G"},{"r":62,"v":1.0,"e":0.008,"t":"G"},{"r":63,"v":1.0,"e":0.008,"t":"G"},{"r":64,"v":1.007,"e":0.008,"t":"R"},{"r":65,"v":1.01,"e":0.008,"t":"G"},{"r":66,"v":1.015,"e":0.008,"t":"G"},{"r":67,"v":1.02,"e":0.008,"t":"G"},{"r":68,"v":1.022,"e":0.008,"t":"G"},{"r":69,"v":1.025,"e":0.008,"t":"G"},{"r":70,"v":1.03,"e":0.008,"t":"R"},
  {"r":71,"v":1.035,"e":0.008,"t":"G"},{"r":72,"v":1.037,"e":0.008,"t":"G"},{"r":73,"v":1.04,"e":0.008,"t":"G"},{"r":74,"v":1.042,"e":0.008,"t":"G"},{"r":75,"v":1.045,"e":0.008,"t":"G"},{"r":76,"v":1.048,"e":0.008,"t":"G"},{"r":77,"v":1.05,"e":0.008,"t":"G"},{"r":78,"v":1.055,"e":0.008,"t":"G"},{"r":79,"v":1.06,"e":0.008,"t":"R"},{"r":80,"v":1.118,"e":0.008,"t":"R"}
 ],
 "d": [
  {"set":"Single","x":-0.5,"n":0},{"set":"Single","x":0.5,"n":0},{"set":"Single","x":1.5,"n":0},{"set":"Single","x":2.5,"n":1},{"set":"Single","x":3.5,"n":10},{"set":"Single","x":4.5,"n":15},{"set":"Single","x":5.5,"n":16},{"set":"Single","x":6.5,"n":13},{"set":"Single","x":7.5,"n":6},{"set":"Single","x":8.5,"n":4},{"set":"Single","x":9.5,"n":3},{"set":"Single","x":10.5,"n":1},{"set":"Single","x":11.5,"n":0},
  {"set":"Comp.","x":-0.5,"n":0},{"set":"Comp.","x":0.5,"n":0},{"set":"Comp.","x":1.5,"n":0},{"set":"Comp.","x":2.5,"n":0},{"set":"Comp.","x":3.5,"n":4},{"set":"Comp.","x":4.5,"n":8},{"set":"Comp.","x":5.5,"n":14},{"set":"Comp.","x":6.5,"n":14},{"set":"Comp.","x":7.5,"n":19},{"set":"Comp.","x":8.5,"n":7},{"set":"Comp.","x":9.5,"n":3},{"set":"Comp.","x":10.5,"n":0},
  {"set":"All","x":-0.5,"n":0},{"set":"All","x":0.5,"n":0},{"set":"All","x":1.5,"n":0},{"set":"All","x":2.5,"n":0},{"set":"All","x":3.5,"n":0},{"set":"All","x":4.5,"n":0},{"set":"All","x":5.5,"n":2},{"set":"All","x":6.5,"n":3},{"set":"All","x":7.5,"n":8},{"set":"All","x":8.5,"n":18},{"set":"All","x":9.5,"n":12},{"set":"All","x":10.5,"n":17},{"set":"All","x":11.5,"n":9},{"set":"All","x":12.5,"n":0}
 ],
 "e": [
  {"b0":1.5,"b1":2.5,"n":1},{"b0":2.5,"b1":3.5,"n":4},{"b0":3.5,"b1":4.5,"n":13},{"b0":4.5,"b1":5.5,"n":24},{"b0":5.5,"b1":6.5,"n":15},{"b0":6.5,"b1":7.5,"n":9},{"b0":7.5,"b1":8.5,"n":2},{"b0":8.5,"b1":9.5,"n":1}
 ],
 "f": [
  {"g":1,"v":0.224,"s":"a"},{"g":1,"v":0.599,"s":"a"},{"g":1,"v":0.873,"s":"a"},{"g":1,"v":0.936,"s":"a"},{"g":1,"v":0.966,"s":"a"},
  {"g":2,"v":0.232,"s":"b"},{"g":2,"v":0.518,"s":"b"},{"g":2,"v":0.846,"s":"b"},{"g":2,"v":0.966,"s":"b"},{"g":2,"v":0.993,"s":"b"},{"g":2,"v":1.039,"s":"b"},
  {"g":3,"v":0.256,"s":"a"},{"g":3,"v":0.544,"s":"a"},{"g":3,"v":0.686,"s":"a"},{"g":3,"v":1.024,"s":"a"},
  {"g":4,"v":0.268,"s":"b"},{"g":4,"v":0.434,"s":"b"},{"g":4,"v":0.861,"s":"b"},{"g":4,"v":0.902,"s":"b"},{"g":4,"v":0.936,"s":"b"},{"g":4,"v":0.976,"s":"b"},
  {"g":5,"v":0.271,"s":"a"},{"g":5,"v":0.453,"s":"a"},{"g":5,"v":0.848,"s":"a"},{"g":5,"v":1.015,"s":"a"},
  {"g":6,"v":0.273,"s":"b"},{"g":6,"v":0.601,"s":"b"},{"g":6,"v":0.958,"s":"b"},{"g":6,"v":0.998,"s":"b"},{"g":6,"v":1.034,"s":"b"},
  {"g":7,"v":0.291,"s":"a"},{"g":7,"v":0.441,"s":"a"},{"g":7,"v":0.599,"s":"a"},{"g":7,"v":0.66,"s":"a"},{"g":7,"v":0.709,"s":"a"},{"g":7,"v":0.802,"s":"a"},{"g":7,"v":0.883,"s":"a"},{"g":7,"v":0.963,"s":"a"},
  {"g":8,"v":0.298,"s":"b"},{"g":8,"v":0.55,"s":"b"},{"g":8,"v":0.763,"s":"b"},{"g":8,"v":0.907,"s":"b"},
  {"g":9,"v":0.322,"s":"a"},{"g":9,"v":0.558,"s":"a"},{"g":9,"v":0.682,"s":"a"},{"g":9,"v":0.829,"s":"a"},{"g":9,"v":0.89,"s":"a"},{"g":9,"v":0.963,"s":"a"},{"g":9,"v":1.002,"s":"a"},
  {"g":10,"v":0.325,"s":"b"},{"g":10,"v":0.452,"s":"b"},{"g":10,"v":0.67,"s":"b"},{"g":10,"v":1.061,"s":"b"},{"g":10,"v":1.09,"s":"b"},
  {"g":11,"v":0.33,"s":"a"},{"g":11,"v":0.486,"s":"a"},{"g":11,"v":1.076,"s":"a"},
  {"g":12,"v":0.369,"s":"b"},{"g":12,"v":0.481,"s":"b"},{"g":12,"v":0.758,"s":"b"},{"g":12,"v":0.931,"s":"b"},{"g":12,"v":0.966,"s":"b"},{"g":12,"v":1.01,"s":"b"},
  {"g":13,"v":0.376,"s":"a"},{"g":13,"v":0.549,"s":"a"},{"g":13,"v":0.662,"s":"a"},{"g":13,"v":0.792,"s":"a"},{"g":13,"v":0.917,"s":"a"},{"g":13,"v":1.007,"s":"a"},{"g":13,"v":1.071,"s":"a"},
  {"g":14,"v":0.376,"s":"b"},{"g":14,"v":0.508,"s":"b"},{"g":14,"v":0.611,"s":"b"},{"g":14,"v":0.692,"s":"b"},{"g":14,"v":0.799,"s":"b"},{"g":14,"v":0.988,"s":"b"},{"g":14,"v":1.034,"s":"b"},
  {"g":15,"v":0.378,"s":"a"},{"g":15,"v":0.65,"s":"a"},{"g":15,"v":0.768,"s":"a"},
  {"g":16,"v":0.379,"s":"b"},{"g":16,"v":0.621,"s":"b"},{"g":16,"v":1.103,"s":"b"},
  {"g":17,"v":0.382,"s":"a"},{"g":17,"v":0.498,"s":"a"},{"g":17,"v":0.665,"s":"a"},{"g":17,"v":0.79,"s":"a"},
  {"g":18,"v":0.396,"s":"b"},{"g":18,"v":0.542,"s":"b"},{"g":18,"v":0.724,"s":"b"},{"g":18,"v":0.829,"s":"b"},{"g":18,"v":0.902,"s":"b"},{"g":18,"v":0.956,"s":"b"},
  {"g":19,"v":0.403,"s":"a"},{"g":19,"v":0.768,"s":"a"},{"g":19,"v":0.858,"s":"a"},{"g":19,"v":1.054,"s":"a"},
  {"g":20,"v":0.408,"s":"b"},{"g":20,"v":0.491,"s":"b"},{"g":20,"v":0.618,"s":"b"},{"g":20,"v":0.963,"s":"b"},{"g":20,"v":1.017,"s":"b"},
  {"g":21,"v":0.423,"s":"a"},{"g":21,"v":0.572,"s":"a"},{"g":21,"v":0.716,"s":"a"},{"g":21,"v":1.022,"s":"a"},{"g":21,"v":1.105,"s":"a"},
  {"g":22,"v":0.425,"s":"b"},{"g":22,"v":0.562,"s":"b"},{"g":22,"v":0.631,"s":"b"},{"g":22,"v":0.797,"s":"b"},
  {"g":23,"v":0.427,"s":"a"},{"g":23,"v":0.535,"s":"a"},{"g":23,"v":0.775,"s":"a"},{"g":23,"v":1.022,"s":"a"},
  {"g":24,"v":0.428,"s":"b"},{"g":24,"v":0.523,"s":"b"},{"g":24,"v":0.702,"s":"b"},{"g":24,"v":0.843,"s":"b"},
  {"g":25,"v":0.432,"s":"a"},{"g":25,"v":0.55,"s":"a"},{"g":25,"v":0.67,"s":"a"},{"g":25,"v":0.802,"s":"a"},{"g":25,"v":0.931,"s":"a"},{"g":25,"v":1.02,"s":"a"},
  {"g":26,"v":0.435,"s":"b"},{"g":26,"v":0.582,"s":"b"},{"g":26,"v":0.768,"s":"b"},{"g":26,"v":0.978,"s":"b"},{"g":26,"v":1.01,"s":"b"},
  {"g":27,"v":0.436,"s":"a"},{"g":27,"v":0.731,"s":"a"},{"g":27,"v":0.821,"s":"a"},{"g":27,"v":0.873,"s":"a"},{"g":27,"v":0.924,"s":"a"},{"g":27,"v":1.002,"s":"a"},{"g":27,"v":1.046,"s":"a"},
  {"g":28,"v":0.437,"s":"b"},{"g":28,"v":0.569,"s":"b"},{"g":28,"v":0.716,"s":"b"},{"g":28,"v":0.78,"s":"b"},
  {"g":29,"v":0.44,"s":"a"},{"g":29,"v":0.562,"s":"a"},{"g":29,"v":0.814,"s":"a"},{"g":29,"v":0.841,"s":"a"},{"g":29,"v":0.961,"s":"a"},
  {"g":30,"v":0.442,"s":"b"},{"g":30,"v":0.587,"s":"b"},{"g":30,"v":0.662,"s":"b"},{"g":30,"v":0.728,"s":"b"},{"g":30,"v":0.799,"s":"b"},{"g":30,"v":0.843,"s":"b"},{"g":30,"v":0.907,"s":"b"},{"g":30,"v":1.01,"s":"b"},
  {"g":31,"v":0.464,"s":"a"},{"g":31,"v":0.667,"s":"a"},{"g":31,"v":0.748,"s":"a"},{"g":31,"v":0.895,"s":"a"},{"g":31,"v":0.941,"s":"a"},{"g":31,"v":1.007,"s":"a"},
  {"g":32,"v":0.474,"s":"b"},{"g":32,"v":1.068,"s":"b"},
  {"g":33,"v":0.483,"s":"a"},{"g":33,"v":0.584,"s":"a"},{"g":33,"v":0.653,"s":"a"},{"g":33,"v":0.759,"s":"a"},{"g":33,"v":0.961,"s":"a"},
  {"g":34,"v":0.491,"s":"b"},{"g":34,"v":0.94,"s":"b"},{"g":34,"v":0.988,"s":"b"},
  {"g":35,"v":0.494,"s":"a"},{"g":35,"v":0.643,"s":"a"},{"g":35,"v":0.804,"s":"a"},{"g":35,"v":0.9,"s":"a"},{"g":35,"v":0.985,"s":"a"},
  {"g":36,"v":0.503,"s":"b"},{"g":36,"v":0.613,"s":"b"},{"g":36,"v":0.78,"s":"b"},{"g":36,"v":0.963,"s":"b"},
  {"g":37,"v":0.506,"s":"a"},{"g":37,"v":0.589,"s":"a"},{"g":37,"v":0.76,"s":"a"},{"g":37,"v":1.002,"s":"a"},{"g":37,"v":1.046,"s":"a"},
  {"g":38,"v":0.507,"s":"b"},{"g":38,"v":0.645,"s":"b"},{"g":38,"v":0.689,"s":"b"},{"g":38,"v":0.804,"s":"b"},{"g":38,"v":0.863,"s":"b"},{"g":38,"v":0.912,"s":"b"},
  {"g":39,"v":0.523,"s":"a"},{"g":39,"v":0.635,"s":"a"},{"g":39,"v":0.724,"s":"a"},{"g":39,"v":0.785,"s":"a"},{"g":39,"v":0.868,"s":"a"},{"g":39,"v":0.927,"s":"a"},{"g":39,"v":0.998,"s":"a"},
  {"g":40,"v":0.524,"s":"b"},{"g":40,"v":0.643,"s":"b"},{"g":40,"v":0.763,"s":"b"},{"g":40,"v":0.897,"s":"b"},{"g":40,"v":0.939,"s":"b"},{"g":40,"v":0.995,"s":"b"},{"g":40,"v":1.027,"s":"b"},
  {"g":41,"v":0.525,"s":"a"},{"g":41,"v":0.623,"s":"a"},{"g":41,"v":0.721,"s":"a"},{"g":41,"v":0.816,"s":"a"},{"g":41,"v":0.88,"s":"a"},{"g":41,"v":0.956,"s":"a"},{"g":41,"v":0.998,"s":"a"},
  {"g":42,"v":0.526,"s":"b"},{"g":42,"v":0.689,"s":"b"},{"g":42,"v":0.856,"s":"b"},{"g":42,"v":0.897,"s":"b"},{"g":42,"v":0.934,"s":"b"},{"g":42,"v":1.002,"s":"b"},
  {"g":43,"v":0.53,"s":"a"},{"g":43,"v":0.728,"s":"a"},{"g":43,"v":0.772,"s":"a"},{"g":43,"v":0.98,"s":"a"},{"g":43,"v":1.017,"s":"a"},
  {"g":44,"v":0.533,"s":"b"},{"g":44,"v":0.613,"s":"b"},{"g":44,"v":0.726,"s":"b"},{"g":44,"v":0.785,"s":"b"},{"g":44,"v":0.924,"s":"b"},{"g":44,"v":0.98,"s":"b"},
  {"g":45,"v":0.54,"s":"a"},{"g":45,"v":0.699,"s":"a"},{"g":45,"v":0.743,"s":"a"},{"g":45,"v":0.77,"s":"a"},{"g":45,"v":0.807,"s":"a"},{"g":45,"v":0.841,"s":"a"},{"g":45,"v":0.875,"s":"a"},{"g":45,"v":0.953,"s":"a"},{"g":45,"v":1.0,"s":"a"},
  {"g":46,"v":0.555,"s":"b"},{"g":46,"v":0.976,"s":"b"},{"g":46,"v":1.01,"s":"b"},{"g":46,"v":1.042,"s":"b"},{"g":46,"v":1.103,"s":"b"},
  {"g":47,"v":0.562,"s":"a"},{"g":47,"v":0.694,"s":"a"},{"g":47,"v":0.76,"s":"a"},{"g":47,"v":0.821,"s":"a"},{"g":47,"v":0.89,"s":"a"},{"g":47,"v":0.934,"s":"a"},{"g":47,"v":0.988,"s":"a"},
  {"g":48,"v":0.563,"s":"b"},{"g":48,"v":0.643,"s":"b"},{"g":48,"v":0.75,"s":"b"},{"g":48,"v":0.87,"s":"b"},{"g":48,"v":1.034,"s":"b"},
  {"g":49,"v":0.567,"s":"a"},{"g":49,"v":0.687,"s":"a"},{"g":49,"v":0.865,"s":"a"},{"g":49,"v":0.905,"s":"a"},{"g":49,"v":0.985,"s":"a"},
  {"g":50,"v":0.568,"s":"b"},{"g":50,"v":0.887,"s":"b"},{"g":50,"v":0.914,"s":"b"},{"g":50,"v":0.944,"s":"b"},{"g":50,"v":0.988,"s":"b"},
  {"g":51,"v":0.572,"s":"a"},{"g":51,"v":0.738,"s":"a"},{"g":51,"v":0.934,"s":"a"},{"g":51,"v":0.98,"s":"a"},{"g":51,"v":1.015,"s":"a"},
  {"g":52,"v":0.584,"s":"b"},{"g":52,"v":0.743,"s":"b"},{"g":52,"v":0.816,"s":"b"},
  {"g":53,"v":0.585,"s":"a"},{"g":53,"v":0.785,"s":"a"},{"g":53,"v":0.841,"s":"a"},{"g":53,"v":0.88,"s":"a"},{"g":53,"v":0.958,"s":"a"},{"g":53,"v":1.0,"s":"a"},
  {"g":54,"v":0.591,"s":"b"},{"g":54,"v":0.675,"s":"b"},{"g":54,"v":0.79,"s":"b"},{"g":54,"v":1.054,"s":"b"},
  {"g":55,"v":0.606,"s":"a"},{"g":55,"v":0.653,"s":"a"},{"g":55,"v":0.714,"s":"a"},{"g":55,"v":0.787,"s":"a"},{"g":55,"v":0.934,"s":"a"},{"g":55,"v":0.988,"s":"a"},
  {"g":56,"v":0.609,"s":"b"},{"g":56,"v":0.682,"s":"b"},{"g":56,"v":0.895,"s":"b"},{"g":56,"v":1.005,"s":"b"},{"g":56,"v":1.044,"s":"b"},
  {"g":57,"v":0.616,"s":"a"},{"g":57,"v":0.878,"s":"a"},{"g":57,"v":0.961,"s":"a"},
  {"g":58,"v":0.631,"s":"b"},{"g":58,"v":0.753,"s":"b"},{"g":58,"v":0.929,"s":"b"},{"g":58,"v":0.968,"s":"b"},{"g":58,"v":1.0,"s":"b"},
  {"g":59,"v":0.632,"s":"a"},{"g":59,"v":0.699,"s":"a"},{"g":59,"v":0.748,"s":"a"},{"g":59,"v":0.802,"s":"a"},{"g":59,"v":0.861,"s":"a"},{"g":59,"v":0.924,"s":"a"},{"g":59,"v":0.983,"s":"a"},
  {"g":60,"v":0.638,"s":"b"},{"g":60,"v":0.724,"s":"b"},{"g":60,"v":0.804,"s":"b"},{"g":60,"v":0.865,"s":"b"},{"g":60,"v":1.034,"s":"b"},
  {"g":61,"v":0.643,"s":"a"},{"g":61,"v":0.748,"s":"a"},{"g":61,"v":0.831,"s":"a"},{"g":61,"v":0.9,"s":"a"},{"g":61,"v":0.99,"s":"a"},
  {"g":62,"v":0.665,"s":"b"},{"g":62,"v":0.728,"s":"b"},{"g":62,"v":0.77,"s":"b"},{"g":62,"v":0.883,"s":"b"},{"g":62,"v":0.951,"s":"b"},{"g":62,"v":1.0,"s":"b"},
  {"g":63,"v":0.677,"s":"a"},{"g":63,"v":0.782,"s":"a"},{"g":63,"v":0.873,"s":"a"},{"g":63,"v":0.922,"s":"a"},{"g":63,"v":0.958,"s":"a"},
  {"g":64,"v":0.684,"s":"b"},{"g":64,"v":0.76,"s":"b"},{"g":64,"v":0.858,"s":"b"},{"g":64,"v":0.909,"s":"b"},{"g":64,"v":0.958,"s":"b"},{"g":64,"v":1.0,"s":"b"},
  {"g":65,"v":0.699,"s":"a"},{"g":65,"v":0.75,"s":"a"},{"g":65,"v":0.802,"s":"a"},{"g":65,"v":0.907,"s":"a"},{"g":65,"v":1.01,"s":"a"},{"g":65,"v":1.044,"s":"a"},
  {"g":66,"v":0.709,"s":"b"},{"g":66,"v":0.772,"s":"b"},{"g":66,"v":0.816,"s":"b"},{"g":66,"v":0.861,"s":"b"},{"g":66,"v":0.973,"s":"b"},{"g":66,"v":1.007,"s":"b"},
  {"g":67,"v":0.719,"s":"a"},{"g":67,"v":0.846,"s":"a"},{"g":67,"v":0.905,"s":"a"},{"g":67,"v":0.956,"s":"a"},{"g":67,"v":1.002,"s":"a"},
  {"g":68,"v":0.741,"s":"b"},{"g":68,"v":0.951,"s":"b"},{"g":68,"v":0.98,"s":"b"},{"g":68,"v":1.017,"s":"b"},
  {"g":69,"v":0.746,"s":"a"},{"g":69,"v":0.787,"s":"a"},{"g":69,"v":0.826,"s":"a"},{"g":69,"v":0.9,"s":"a"},{"g":69,"v":0.976,"s":"a"}
 ]
},
"spacing": 50,
"resolve": {"scale": {"color": "independent", "fill": "independent", "stroke": "independent"}, "legend": {"color": "independent"}},
"hconcat": [
 {"spacing": 0,
  "resolve": {"scale": {"color": "independent", "fill": "independent", "stroke": "independent"}, "legend": {"color": "independent"}},
  "vconcat": [
  {"width": 234, "height": 220,
   "title": {"text": "A", "offset": -13, "dx": 6},
   "data": {"name": "pa"},
   "layer": [
    {"mark": {"type": "rule", "strokeWidth": 2},
     "encoding": {
      "x": {"field": "p", "type": "quantitative", "title": null, "scale": {"domain": [0.27, 15.73], "nice": false, "zero": false}, "axis": {"labels": false, "ticks": false, "domain": true}},
      "y": {"field": "lo", "type": "quantitative", "title": "Norm. growth rate", "scale": {"domain": [0.25, 1.1], "nice": false, "zero": false}, "axis": {"values": [0.25, 0.5, 0.75, 1.0], "labelExpr": "datum.value == 1 ? '1.0' : format(datum.value, '.2f')", "titlePadding": 20}},
      "y2": {"field": "hi"},
      "stroke": {"field": "g", "type": "nominal", "scale": {"domain": ["dapA", "kdsA", "guaA"], "range": ["#4cf3ab", "#f7638e", "#6389a4"]}, "legend": null}}},
    {"mark": {"type": "tick", "orient": "horizontal", "size": 18, "thickness": 2},
     "encoding": {"x": {"field": "p", "type": "quantitative", "title": null}, "y": {"field": "lo", "type": "quantitative", "title": "Norm. growth rate"}, "fill": {"field": "g", "type": "nominal", "scale": {"domain": ["dapA", "kdsA", "guaA"], "range": ["#4cf3ab", "#f7638e", "#6389a4"]}, "legend": null}}},
    {"mark": {"type": "tick", "orient": "horizontal", "size": 18, "thickness": 2},
     "encoding": {"x": {"field": "p", "type": "quantitative", "title": null}, "y": {"field": "hi", "type": "quantitative", "title": "Norm. growth rate"}, "fill": {"field": "g", "type": "nominal", "legend": null}}},
    {"mark": {"type": "point", "filled": true, "opacity": 1, "size": 150},
     "encoding": {"x": {"field": "p", "type": "quantitative", "title": null}, "y": {"field": "v", "type": "quantitative", "title": "Norm. growth rate"},
      "color": {"field": "g", "type": "nominal", "scale": {"domain": ["dapA", "kdsA", "guaA"], "range": ["#4cf3ab", "#f7638e", "#6389a4"]}, "legend": {"orient": "none", "legendX": 18, "legendY": -2, "title": null, "symbolType": "circle", "symbolSize": 200, "labelFontSize": 16, "labelFontStyle": "italic", "rowPadding": 5, "labelOffset": 8, "symbolStrokeWidth": 0}}}},
    {"data": {"values": [{"k": 1}]},
     "mark": {"type": "text", "text": "SG1", "fontSize": 15, "align": "right", "baseline": "middle", "color": "#1a1a1a"},
     "encoding": {"x": {"datum": 15.2}, "y": {"datum": 0.292}}}
   ]},
  {"width": 234, "height": 90,
   "data": {"name": "ga"},
   "mark": {"type": "rect", "stroke": "#879898", "strokeWidth": 0.8},
   "encoding": {
    "x": {"field": "c", "type": "ordinal", "scale": {"paddingInner": 0.45, "paddingOuter": 0.275}, "axis": null},
    "y": {"field": "r", "type": "ordinal", "sort": "ascending", "scale": {"paddingInner": 0, "paddingOuter": 0}, "axis": {"values": [-20, -1], "ticks": false, "domain": false, "labelPadding": 6, "title": "sgRNA", "titleFontSize": 16, "titleX": -3, "titleY": 45}},
    "color": {"field": "s", "type": "nominal", "scale": {"domain": ["T", "M"], "range": ["#1a1a1a", "#ffffff"]},
     "legend": {"orient": "none", "legendX": 16, "legendY": 101, "direction": "horizontal", "title": null, "symbolType": "M-1.6,-1H1.6V1H-1.6Z", "symbolSize": 289, "symbolStrokeColor": "#879898", "symbolStrokeWidth": 1.2, "labelFontSize": 16, "labelExpr": "datum.value == 'T' ? 'On target' : 'Mutant'", "columnPadding": 22, "labelOffset": 6}}}},
  {"width": 1, "height": 22, "data": {"values": []}, "mark": "point", "encoding": {}},
  {"width": 266, "height": 259,
   "title": {"text": "C", "offset": -14, "dx": -10},
   "data": {"name": "c"},
   "layer": [
    {"transform": [{"filter": "datum.t == 'G'"}],
     "mark": {"type": "errorbar", "thickness": 1.2, "color": "#93a39f"},
     "encoding": {
      "x": {"field": "r", "type": "quantitative", "scale": {"domain": [-2.6, 83.9], "nice": false, "zero": false}, "axis": {"labels": false, "ticks": false, "title": ["Rank ordered sgRNAs", "(all mutation types)"], "titlePadding": 10, "titleLineHeight": 22}},
      "y": {"field": "v", "type": "quantitative", "title": "Norm. growth rate", "scale": {"domain": [0.192, 1.17], "nice": false, "zero": false}, "axis": {"values": [0.2, 0.4, 0.6, 0.8, 1.0], "format": ".1f", "titlePadding": 14}},
      "yError": {"field": "e"}}},
    {"transform": [{"filter": "datum.t == 'G'"}],
     "mark": {"type": "point", "filled": true, "opacity": 1, "size": 90, "color": "#93a39f"},
     "encoding": {"x": {"field": "r", "type": "quantitative", "title": ["Rank ordered sgRNAs", "(all mutation types)"]}, "y": {"field": "v", "type": "quantitative", "title": "Norm. growth rate"}}},
    {"transform": [{"filter": "datum.t == 'R'"}],
     "mark": {"type": "errorbar", "thickness": 1.2, "color": "#f5170d"},
     "encoding": {"x": {"field": "r", "type": "quantitative", "title": ["Rank ordered sgRNAs", "(all mutation types)"]}, "y": {"field": "v", "type": "quantitative", "title": "Norm. growth rate"}, "yError": {"field": "e"}}},
    {"transform": [{"filter": "datum.t == 'R'"}],
     "mark": {"type": "point", "filled": true, "opacity": 1, "size": 95},
     "encoding": {"x": {"field": "r", "type": "quantitative", "title": ["Rank ordered sgRNAs", "(all mutation types)"]}, "y": {"field": "v", "type": "quantitative", "title": "Norm. growth rate"},
      "color": {"field": "t", "type": "nominal", "scale": {"domain": ["R"], "range": ["#f5170d"]}, "legend": {"orient": "bottom-right", "offset": 6, "title": null, "symbolType": "circle", "symbolSize": 110, "symbolStrokeWidth": 0, "labelFontSize": 16, "labelExpr": "'Resolvable effects'", "labelOffset": 6}}}},
    {"data": {"values": [{"k": 1}]},
     "mark": {"type": "text", "text": "DHFR", "fontSize": 16, "align": "left", "baseline": "middle", "color": "#1a1a1a"},
     "encoding": {"x": {"datum": -0.3}, "y": {"datum": 1.133}}}
   ]},
  {"width": 1, "height": 36, "data": {"values": []}, "mark": "point", "encoding": {}},
  {"width": 266, "height": 261,
   "title": {"text": "D", "offset": 42, "dx": -11},
   "data": {"name": "d"},
   "encoding": {
    "x": {"field": "x", "type": "quantitative", "title": "Resolvable growth effects", "scale": {"domain": [-1.1, 15], "nice": false, "zero": false}, "axis": {"values": [0, 3, 6, 9, 12, 15], "titlePadding": 8}},
    "y": {"field": "n", "type": "quantitative", "stack": null, "title": "# of genes", "scale": {"domain": [0, 20], "nice": false}, "axis": {"values": [0, 5, 10, 15, 20], "titlePadding": 14}},
    "color": {"field": "set", "type": "nominal", "scale": {"domain": ["Single", "Comp.", "All"], "range": ["#3dfbc6", "#f79b12", "#5a2bff"]},
     "legend": {"orient": "none", "legendX": 9, "legendY": -7, "title": "sgRNA mutant", "titleFontSize": 16, "titleFontWeight": "normal", "titlePadding": 5, "symbolType": "square", "symbolSize": 289, "symbolOpacity": 0.6, "symbolStrokeWidth": 0, "labelFontSize": 16, "rowPadding": 6, "symbolOffset": 16, "labelOffset": 5}}},
   "layer": [
    {"transform": [{"filter": "datum.set == 'Single'"}], "mark": {"type": "area", "interpolate": "step-after", "fillOpacity": 0.7, "stroke": "#333333", "strokeWidth": 1.6}},
    {"transform": [{"filter": "datum.set == 'All'"}], "mark": {"type": "area", "interpolate": "step-after", "fillOpacity": 0.82, "stroke": "#333333", "strokeWidth": 1.6}},
    {"transform": [{"filter": "datum.set == 'Comp.'"}], "mark": {"type": "area", "interpolate": "step-after", "fillOpacity": 0.75, "stroke": "#333333", "strokeWidth": 1.6}}
   ]}
 ]},
 {"spacing": 0,
  "resolve": {"scale": {"color": "independent", "fill": "independent", "stroke": "independent"}, "legend": {"color": "independent"}},
  "vconcat": [
  {"width": 234, "height": 220,
   "title": {"text": "B", "offset": -13, "dx": -20},
   "data": {"name": "pb"},
   "layer": [
    {"mark": {"type": "rule", "strokeWidth": 2},
     "encoding": {
      "x": {"field": "p", "type": "quantitative", "title": null, "scale": {"domain": [0.23, 16.7], "nice": false, "zero": false}, "axis": {"labels": false, "ticks": false, "domain": true}},
      "y": {"field": "lo", "type": "quantitative", "title": "Norm. growth rate", "scale": {"domain": [0.25, 1.1], "nice": false, "zero": false}, "axis": {"values": [0.25, 0.5, 0.75, 1.0], "labelExpr": "datum.value == 1 ? '1.0' : format(datum.value, '.2f')", "titlePadding": 20}},
      "y2": {"field": "hi"},
      "stroke": {"field": "g", "type": "nominal", "scale": {"domain": ["dapA", "kdsA", "guaA"], "range": ["#4cf3ab", "#f7638e", "#6389a4"]}, "legend": null}}},
    {"mark": {"type": "tick", "orient": "horizontal", "size": 17, "thickness": 2},
     "encoding": {"x": {"field": "p", "type": "quantitative", "title": null}, "y": {"field": "lo", "type": "quantitative", "title": "Norm. growth rate"}, "fill": {"field": "g", "type": "nominal", "scale": {"domain": ["dapA", "kdsA", "guaA"], "range": ["#4cf3ab", "#f7638e", "#6389a4"]}, "legend": null}}},
    {"mark": {"type": "tick", "orient": "horizontal", "size": 17, "thickness": 2},
     "encoding": {"x": {"field": "p", "type": "quantitative", "title": null}, "y": {"field": "hi", "type": "quantitative", "title": "Norm. growth rate"}, "fill": {"field": "g", "type": "nominal", "legend": null}}},
    {"mark": {"type": "point", "filled": true, "opacity": 1, "size": 150},
     "encoding": {"x": {"field": "p", "type": "quantitative", "title": null}, "y": {"field": "v", "type": "quantitative", "title": "Norm. growth rate"},
      "color": {"field": "g", "type": "nominal", "scale": {"domain": ["dapA", "kdsA", "guaA"], "range": ["#4cf3ab", "#f7638e", "#6389a4"]}, "legend": {"orient": "none", "legendX": 18, "legendY": -2, "title": null, "symbolType": "circle", "symbolSize": 200, "labelFontSize": 16, "labelFontStyle": "italic", "rowPadding": 5, "labelOffset": 8, "symbolStrokeWidth": 0}}}},
    {"data": {"values": [{"k": 1}]},
     "mark": {"type": "text", "text": "SG1", "fontSize": 15, "align": "right", "baseline": "middle", "color": "#1a1a1a"},
     "encoding": {"x": {"datum": 16.3}, "y": {"datum": 0.292}}}
   ]},
  {"width": 234, "height": 90,
   "data": {"name": "gb"},
   "mark": {"type": "rect", "stroke": "#879898", "strokeWidth": 0.8},
   "encoding": {
    "x": {"field": "c", "type": "ordinal", "scale": {"paddingInner": 0.42, "paddingOuter": 0.36}, "axis": null},
    "y": {"field": "r", "type": "ordinal", "sort": "ascending", "scale": {"paddingInner": 0, "paddingOuter": 0}, "axis": {"values": [-20, -1], "ticks": false, "domain": false, "labelPadding": 6, "title": "sgRNA", "titleFontSize": 16, "titleX": -3, "titleY": 45}},
    "color": {"field": "s", "type": "nominal", "scale": {"domain": ["T", "M"], "range": ["#1a1a1a", "#ffffff"]}, "legend": null}}},
  {"width": 1, "height": 74, "title": {"text": "E", "offset": -74, "dx": -96}, "data": {"values": []}, "mark": "point", "encoding": {}},
  {"width": 251, "height": 146,
   "title": {"text": "16 selected comp. sgRNAs", "anchor": "middle", "frame": "group", "fontWeight": "normal", "fontSize": 19, "offset": 7},
   "data": {"name": "e"},
   "mark": {"type": "rect", "color": "#1c1c1c", "stroke": "#8fa3a3", "strokeWidth": 1.6},
   "encoding": {
    "x": {"field": "b0", "type": "quantitative", "scale": {"domain": [-0.6, 12], "nice": false, "zero": false}, "axis": {"title": "Resolvable growth effects", "values": [0, 3, 6, 9, 12], "titlePadding": 8}},
    "x2": {"field": "b1"},
    "y": {"field": "n", "type": "quantitative", "scale": {"domain": [0, 25.2], "nice": false}, "axis": {"title": "# of genes", "values": [0, 8, 16, 24], "titlePadding": 12}},
    "y2": {"datum": 0}}},
  {"width": 1, "height": 33, "data": {"values": []}, "mark": "point", "encoding": {}},
  {"width": 251, "height": 402,
   "title": {"text": "F", "offset": -136, "dx": 12},
   "data": {"name": "f"},
   "mark": {"type": "point", "shape": "square", "filled": true, "opacity": 1, "size": 16},
   "encoding": {
    "x": {"field": "v", "type": "quantitative", "title": "Norm. growth rate", "scale": {"domain": [0.178, 1.15], "nice": false, "zero": false}, "axis": {"values": [0.2, 0.4, 0.6, 0.8, 1.0], "format": ".1f", "titlePadding": 8}},
    "y": {"field": "g", "type": "quantitative", "title": "Rank ordered genes", "scale": {"domain": [-2.62, 72.8], "reverse": true, "nice": false, "zero": false}, "axis": {"labels": false, "ticks": false, "titlePadding": 18}},
    "color": {"field": "s", "type": "nominal", "scale": {"domain": ["a", "b"], "range": ["#1a1a1a", "#3cf0b0"]},
     "legend": {"orient": "none", "legendX": 5, "legendY": 376, "title": null, "symbolType": "square", "symbolSize": 16, "labelFontSize": 16, "rowPadding": -19, "labelOffset": 4, "labelExpr": "datum.value == 'b' ? 'Resolvable effects' : ''"}}}}
 ]}
]
}
